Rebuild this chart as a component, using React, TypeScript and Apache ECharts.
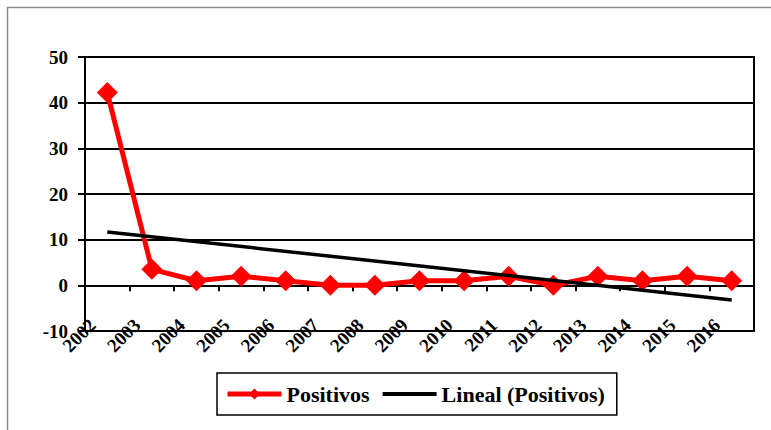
import React, { useEffect, useRef } from "react";
import * as echarts from "echarts";

const years = ["2002", "2003", "2004", "2005", "2006", "2007", "2008", "2009", "2010", "2011", "2012", "2013", "2014", "2015", "2016"];
const positivos = [42.2, 3.5, 1, 2, 1, 0, 0, 1, 1, 2, 0, 2, 1, 2, 1];
// trend line (Lineal): start and end values
const linealStart = 11.7;
const linealEnd = -3.2;
const yTicks = { min: -10, max: 50, interval: 10 };

const FONT = "Liberation Serif";

export default function App() {
  const ref = useRef<HTMLDivElement>(null);
  useEffect(() => {
    if (!ref.current) return;
    const chart = echarts.init(ref.current, undefined, { renderer: "svg" });
    const lineal = years.map((_, i) => (i === 0 ? linealStart : i === years.length - 1 ? linealEnd : null));
    chart.setOption({
      animation: false,
      backgroundColor: "#ffffff",
      textStyle: { fontFamily: FONT, fontWeight: "bold", color: "#000" },
      graphic: [
        {
          type: "rect",
          shape: { x: 7.5, y: 7.5, width: 820, height: 460 },
          style: { fill: "none", stroke: "#8a8a8a", lineWidth: 1.5 },
          silent: true,
        },
      ],
      grid: {
        left: 85,
        top: 57,
        right: 17,
        bottom: 99,
        show: true,
        borderColor: "#000",
        borderWidth: 2,
        containLabel: false,
      },
      legend: {
        left: 217,
        top: 373,
        padding: [10, 12, 10, 8],
        itemGap: 11,
        itemWidth: 54,
        itemHeight: 14,
        borderColor: "#000",
        borderWidth: 1.5,
        textStyle: { fontFamily: FONT, fontWeight: "bold", fontSize: 22, color: "#000" },
        data: [
          { name: "Positivos", lineStyle: { width: 5 } },
          { name: "Lineal (Positivos)", lineStyle: { width: 4 }, itemStyle: { opacity: 0 } },
        ],
      },
      xAxis: [
        {
          type: "category",
          data: years,
          boundaryGap: true,
          position: "bottom",
          axisLine: { onZero: false, show: false },
          axisTick: { show: false },
          axisLabel: {
            rotate: 45,
            interval: 0,
            margin: -24,
            formatter: (v: string) => "{a|" + v + "}{s| }",
            rich: {
              a: { fontFamily: FONT, fontWeight: "bold", fontSize: 19, color: "#000" },
              s: { width: 21, fontSize: 19 },
            },
            fontFamily: FONT,
            fontWeight: "bold",
            fontSize: 19,
            color: "#000",
          },
          splitLine: { show: false },
        },
        {
          type: "category",
          data: years,
          boundaryGap: true,
          position: "bottom",
          axisLine: { onZero: true, show: true, lineStyle: { color: "#000", width: 2 } },
          axisTick: { show: true, inside: false, length: 6, lineStyle: { color: "#000", width: 2 } },
          axisLabel: { show: false },
          splitLine: { show: false },
        },
      ],
      yAxis: {
        type: "value",
        min: yTicks.min,
        max: yTicks.max,
        interval: yTicks.interval,
        axisLine: { show: true, lineStyle: { color: "#000", width: 2 } },
        axisTick: { show: true, length: 7, lineStyle: { color: "#000", width: 2 } },
        axisLabel: {
          margin: 17,
          fontFamily: FONT,
          fontWeight: "bold",
          fontSize: 19,
          color: "#000",
        },
        splitLine: { show: true, lineStyle: { color: "#000", width: 2 } },
      },
      series: [
        {
          name: "Positivos",
          type: "line",
          xAxisIndex: 0,
          data: positivos,
          symbol: "diamond",
          symbolSize: 21,
          lineStyle: { color: "#ff0000", width: 5 },
          itemStyle: { color: "#ff0000" },
          z: 3,
        },
        {
          name: "Lineal (Positivos)",
          type: "line",
          xAxisIndex: 0,
          data: lineal,
          connectNulls: true,
          symbol: "none",
          lineStyle: { color: "#000", width: 3.5 },
          itemStyle: { color: "#000" },
          z: 4,
        },
      ],
    });
    return () => chart.dispose();
  }, []);
  return (
    <div
      ref={ref}
      style={{ position: "fixed", left: 0, top: 0, width: 771, height: 430 }}
    />
  );
}
